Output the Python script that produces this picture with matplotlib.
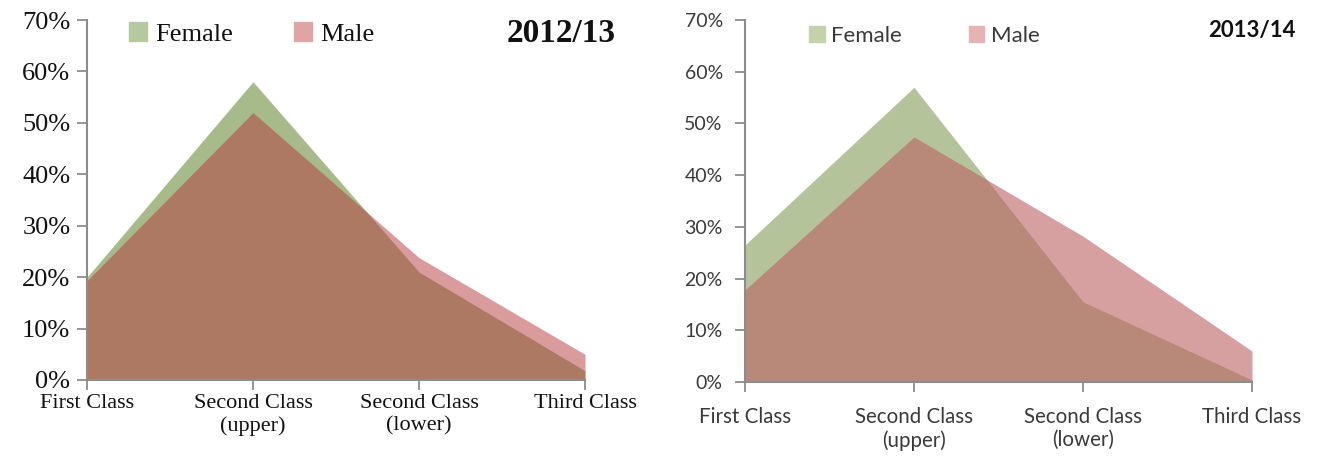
import matplotlib
matplotlib.use("Agg")
import matplotlib.pyplot as plt
from matplotlib.patches import Patch
from matplotlib.ticker import FuncFormatter

categories = ["First Class", "Second Class\n(upper)", "Second Class\n(lower)", "Third Class"]
yticks = [0, 10, 20, 30, 40, 50, 60, 70]

female_2012 = [20.0, 58.0, 21.0, 1.8]
male_2012 = [19.3, 52.0, 23.8, 5.0]
female_2013 = [26.5, 57.0, 15.5, 0.4]
male_2013 = [17.8, 47.4, 28.2, 6.0]

W, H = 1319, 459
fig = plt.figure(figsize=(W / 100, H / 100), dpi=100)

def px_axes(x0, x1, ytop, ybot):
    return fig.add_axes([x0 / W, (H - ybot) / H, (x1 - x0) / W, (ybot - ytop) / H])

panels = [
    dict(rect=(87, 585, 20, 380), female=female_2012, male=male_2012,
         fam=["Liberation Serif", "DejaVu Serif"], ytick_fs=19, xtick_fs=16,
         leg_fs=19, title="2012/13", title_fs=24, tcolor="#111111",
         fcol=(166/255, 187/255, 137/255), fa=1.0,
         mcol=(183/255, 57/255, 61/255), ma=0.5,
         legx=129, legy=34, colsp=2.3, title_x=616, title_y=33, ypad=12, xpad=10,
         lf=(181/255, 200/255, 158/255), lm=(224/255, 164/255, 164/255)),
    dict(rect=(745, 1252, 20, 382), female=female_2013, male=male_2013,
         fam=["Lato", "DejaVu Sans"], ytick_fs=14, xtick_fs=14.8,
         leg_fs=16, title="2013/14", title_fs=16, tcolor="#3a3a3a",
         fcol=(181/255, 195/255, 155/255), fa=1.0,
         mcol=(187/255, 97/255, 97/255), ma=0.6,
         legx=809, legy=36, colsp=3.0, title_x=1296, title_y=31, ypad=16, xpad=18,
         lf=(196/255, 210/255, 172/255), lm=(230/255, 178/255, 178/255)),
]

for p in panels:
    x0, x1, yt, yb = p["rect"]
    ax = px_axes(x0, x1, yt, yb)
    x = list(range(len(categories)))
    ax.fill_between(x, 0, p["female"], color=p["fcol"], alpha=p["fa"], lw=0, zorder=2)
    ax.fill_between(x, 0, p["male"], color=p["mcol"], alpha=p["ma"], lw=0, zorder=3)
    ax.set_xlim(0, 3)
    ax.set_ylim(0, 70)
    ax.set_yticks(yticks)
    ax.yaxis.set_major_formatter(FuncFormatter(lambda v, _: f"{int(v)}%"))
    ax.set_xticks(x)
    ax.set_xticklabels(categories)
    for s in ["top", "right"]:
        ax.spines[s].set_visible(False)
    for s in ["left", "bottom"]:
        ax.spines[s].set_color("#8c8c8c")
        ax.spines[s].set_linewidth(1.5)
        ax.spines[s].set_zorder(5)
    ax.tick_params(axis="y", length=7, width=1.3, color="#8c8c8c", pad=p["ypad"] - 7,
                   labelsize=p["ytick_fs"], labelcolor=p["tcolor"])
    ax.tick_params(axis="x", length=7, width=1.3, color="#8c8c8c", pad=p["xpad"] - 7,
                   labelsize=p["xtick_fs"], labelcolor=p["tcolor"])
    for lab in ax.get_xticklabels() + ax.get_yticklabels():
        lab.set_family(p["fam"])
    ax.set_facecolor("none")

    handles = [Patch(color=p["lf"], label="Female"), Patch(color=p["lm"], label="Male")]
    leg = fig.legend(handles=handles, loc="center left",
                     bbox_to_anchor=(p["legx"] / W, (H - p["legy"]) / H),
                     ncol=2, frameon=False, handlelength=0.7, handleheight=0.7,
                     handletextpad=0.3, columnspacing=p["colsp"], borderaxespad=0, borderpad=0,
                     prop=dict(family=p["fam"], size=p["leg_fs"]))
    for t in leg.get_texts():
        t.set_color(p["tcolor"])
    fig.text(p["title_x"] / W, (H - p["title_y"]) / H, p["title"], ha="right", va="center",
             fontsize=p["title_fs"], fontweight="bold", family=p["fam"], color="#111111")

fig.savefig("out.png", dpi=100)
